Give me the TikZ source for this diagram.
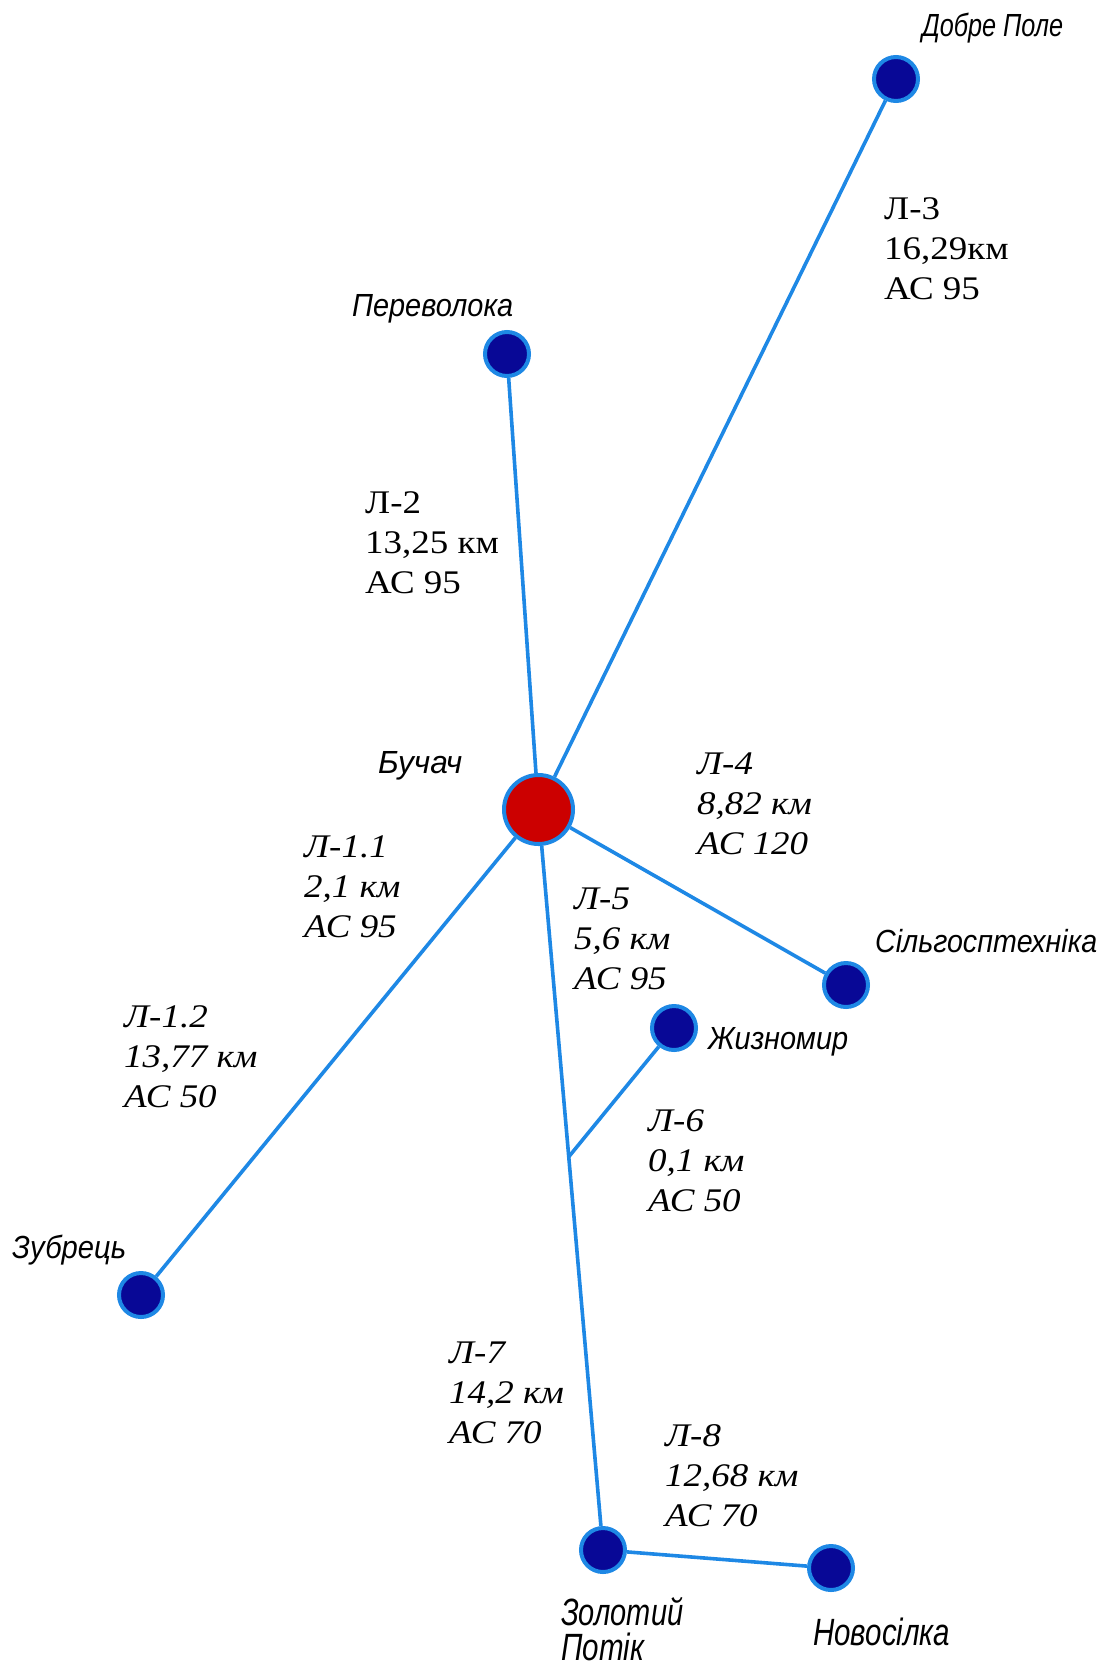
\documentclass[tikz,border=0pt]{standalone}
\usepackage{fontspec}
\usepackage{graphicx}
\setmainfont{Liberation Serif}
\newfontfamily\lblfont[FakeStretch=1.12]{Liberation Serif}
\newfontfamily\placefont{Liberation Sans}
\usetikzlibrary{calc}
\definecolor{lineblue}{RGB}{30,136,229}
\definecolor{nodenavy}{RGB}{8,8,150}
\definecolor{hubred}{RGB}{204,0,0}
\newcommand\fitw[2]{\resizebox{#1}{\height}{#2}}
\tikzset{
 feeder/.style={draw=lineblue, line width=3.6pt},
 sub/.style={circle, fill=nodenavy, draw=lineblue, line width=4pt, minimum size=44pt, inner sep=0pt},
 hub/.style={circle, fill=hubred, draw=lineblue, line width=4pt, minimum size=69pt, inner sep=0pt},
 place/.style={anchor=north west, inner sep=0pt, font=\placefont\itshape\fontsize{32}{36}\selectfont},
 bigplace/.style={anchor=north west, inner sep=0pt, align=left, font=\placefont\itshape\fontsize{38}{35}\selectfont},
 lbl/.style={anchor=north west, inner sep=0pt, align=left, font=\lblfont\fontsize{33}{40}\selectfont},
 ilbl/.style={anchor=north west, inner sep=0pt, align=left, font=\lblfont\itshape\fontsize{33}{40}\selectfont},
}
\begin{document}
\begin{tikzpicture}[x=1pt,y=-1pt]
\useasboundingbox (0,0) rectangle (1116,1666);
% substations
\node[hub] (B) at (538.5,809.5) {};
\node[sub] (DP) at (896,79) {};
\node[sub] (PV) at (507,354) {};
\node[sub] (SG) at (846,985) {};
\node[sub] (ZH) at (674,1028) {};
\node[sub] (ZB) at (141,1295) {};
\node[sub] (ZP) at (603,1550) {};
\node[sub] (NS) at (831,1568) {};
\coordinate (J) at ($(B.center)!0.469!(ZP.center)$);
% lines
\draw[feeder] (B) -- (DP);
\draw[feeder] (B) -- (PV);
\draw[feeder] (B) -- (SG);
\draw[feeder] (B) -- (ZB);
\draw[feeder] (B) -- (ZP);
\draw[feeder] (J) -- (ZH);
\draw[feeder] (ZP) -- (NS);
% place names
\node[place] (tDP) at (922,13) {\fitw{141pt}{Добре Поле}};
\node[place] (tPV) at (352,294) {\fitw{161pt}{Переволока}};
\node[place] (tB) at (378,751) {\fitw{84pt}{Бучач}};
\node[place] (tZB) at (12,1235) {\fitw{114pt}{Зубрець}};
\node[place] (tZH) at (708,1027) {\fitw{140pt}{Жизномир}};
\node[place] (tSG) at (875,929) {\fitw{222pt}{Сільгосптехніка}};
\node[bigplace] (tNS) at (813,1618) {\fitw{137pt}{Новосілка}};
\node[bigplace] (tZP) at (561,1597) {\fitw{122pt}{Золотий}\\\fitw{83pt}{Потік}};
% line labels
\node[lbl] (l3) at (884,197) {Л-3\\16,29км\\АС 95};
\node[lbl] (l2) at (365,491) {Л-2\\13,25 км\\АС 95};
\node[ilbl] (l4) at (697,753) {Л-4\\8,82 км\\АС 120};
\node[ilbl] (l11) at (304,836) {Л-1.1\\2,1 км\\АС 95};
\node[ilbl] (l5) at (574,888) {Л-5\\5,6 км\\АС 95};
\node[ilbl] (l12) at (124,1005) {Л-1.2\\13,77 км\\АС 50};
\node[ilbl] (l6) at (648,1109) {Л-6\\0,1 км\\АС 50};
\node[ilbl] (l7) at (449,1342) {Л-7\\14,2 км\\АС 70};
\node[ilbl] (l8) at (665,1424) {Л-8\\12,68 км\\АС 70};
\end{tikzpicture}
\end{document}
